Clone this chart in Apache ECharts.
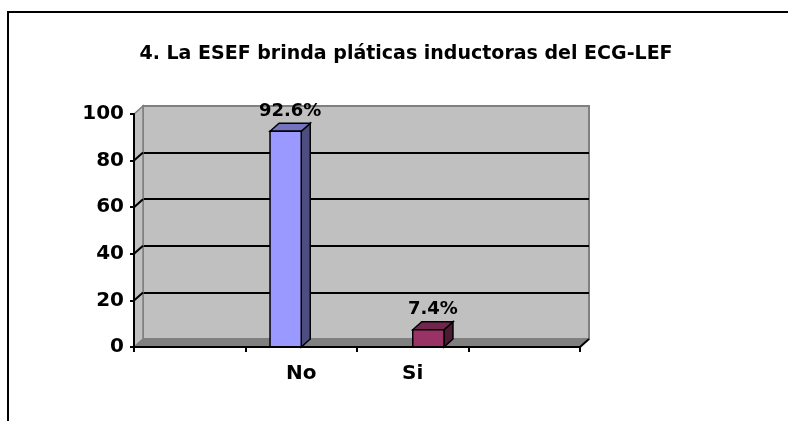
<!DOCTYPE html>
<html><head><meta charset="utf-8">
<script src="https://cdn.jsdelivr.net/npm/echarts@6/dist/echarts.min.js"></script>
<style>html,body{margin:0;padding:0;background:#fff}#c{width:788px;height:421px}</style>
</head><body><div id="c"></div>
<script>
const titleText = '4. La ESEF brinda pláticas inductoras del ECG-LEF';
const categories = ['', 'No', 'Si', ''];
const noValues = [null, 92.6, null, null];
const siValues = [null, null, 7.4, null];
const yTicks = [0, 20, 40, 60, 80, 100];

const DX = 9, DY = 8;
const FONT = '"DejaVu Sans", sans-serif';

function toData(arr) {
  const out = [];
  arr.forEach((v, i) => { if (v != null) out.push([i, v]); });
  return out;
}

function makeBarRender(offsetSlots, colors) {
  return function (params, api) {
    const cat = api.value(0), v = api.value(1);
    const top = api.coord([cat, v]);
    const base = api.coord([cat, 0]);
    const band = api.size([1, 0])[0];
    const w = band * 0.28;
    const x0 = top[0] + offsetSlots * w;
    const x1 = x0 + w;
    const yt = top[1], yb = base[1];
    return {
      type: 'group', children: [
        { type: 'polygon', shape: { points: [[x1, yt], [x1 + DX, yt - DY], [x1 + DX, yb - DY], [x1, yb]] }, style: { fill: colors.side, stroke: '#000', lineWidth: 1.5 } },
        { type: 'polygon', shape: { points: [[x0, yt], [x0 + DX, yt - DY], [x1 + DX, yt - DY], [x1, yt]] }, style: { fill: colors.top, stroke: '#000', lineWidth: 1.5 } },
        { type: 'rect', shape: { x: x0, y: yt, width: w, height: yb - yt }, style: { fill: colors.front, stroke: '#000', lineWidth: 1.5 } },
        { type: 'text', style: { text: v.toFixed(1) + '%', x: (x0 + x1 + DX) / 2, y: yt - DY - 3, textAlign: 'center', textVerticalAlign: 'bottom', font: 'bold 18px ' + FONT, fill: '#000' } }
      ]
    };
  };
}

function wallsRender(params, api) {
  const cs = params.coordSys;
  const L = cs.x, R = cs.x + cs.width, T = cs.y, B = cs.y + cs.height;
  const children = [
    { type: 'polygon', shape: { points: [[L, B], [L, T], [L + DX, T - DY], [L + DX, B - DY]] }, style: { fill: '#c0c0c0', stroke: '#808080', lineWidth: 1.5 } },
    { type: 'polygon', shape: { points: [[L, B], [R, B], [R + DX, B - DY], [L + DX, B - DY]] }, style: { fill: '#808080', stroke: '#808080', lineWidth: 1 } },
    { type: 'line', shape: { x1: R, y1: B, x2: R + DX, y2: B - DY }, style: { stroke: '#000', lineWidth: 2 } }
  ];
  yTicks.forEach(t => {
    if (t === yTicks[0] || t === yTicks[yTicks.length - 1]) return;
    const y = api.coord([0, t])[1];
    children.push({ type: 'line', shape: { x1: L, y1: y, x2: L + DX, y2: y - DY }, style: { stroke: '#000', lineWidth: 2 } });
  });
  return { type: 'group', children };
}

const chart = echarts.init(document.getElementById('c'), null, { renderer: 'canvas' });
chart.setOption({
  animation: false,
  backgroundColor: '#fff',
  title: {
    text: titleText, left: 405, top: 40, textAlign: 'center',
    textStyle: { fontFamily: FONT, fontWeight: 'bold', fontSize: 19, color: '#000' }
  },
  graphic: [{ type: 'rect', z: 100, shape: { x: 8, y: 12, width: 900, height: 500 }, style: { fill: 'none', stroke: '#000', lineWidth: 2 } }],
  grid: [
    { left: 134, right: 208, top: 114, bottom: 74, containLabel: false },
    { left: 134 + DX, right: 208 - DX, top: 114 - DY, bottom: 74 + DY, show: true, backgroundColor: '#c0c0c0', borderColor: '#808080', borderWidth: 2, z: 0 }
  ],
  xAxis: [
    { type: 'category', gridIndex: 0, data: categories, z: 5,
      axisLine: { lineStyle: { color: '#000', width: 2 } },
      axisTick: { show: true, length: 5, interval: 0, lineStyle: { color: '#000', width: 2 } },
      axisLabel: { interval: 0, margin: 17, color: '#000', fontFamily: FONT, fontWeight: 'bold', fontSize: 20 } },
    { type: 'category', gridIndex: 1, data: categories, show: false }
  ],
  yAxis: [
    { type: 'value', gridIndex: 0, min: 0, max: 100, interval: 20, z: 5,
      axisLine: { show: true, lineStyle: { color: '#000', width: 2 } },
      axisTick: { show: true, length: 4, lineStyle: { color: '#000', width: 2 } },
      splitLine: { show: false },
      axisLabel: { margin: 10, color: '#000', fontFamily: FONT, fontWeight: 'bold', fontSize: 20 } },
    { type: 'value', gridIndex: 1, min: 0, max: 100, interval: 20,
      axisLine: { show: false }, axisTick: { show: false }, axisLabel: { show: false },
      splitLine: { show: true, lineStyle: { color: ['rgba(0,0,0,0)', '#000', '#000', '#000', '#000', 'rgba(0,0,0,0)'], width: 2 } } }
  ],
  series: [
    { type: 'custom', name: 'walls', xAxisIndex: 0, yAxisIndex: 0, z: 1, silent: true,
      renderItem: wallsRender, data: [[0, 0]], encode: { x: 0, y: 1 } },
    { type: 'custom', name: 'No', xAxisIndex: 0, yAxisIndex: 0, z: 3,
      renderItem: makeBarRender(-1, { front: '#9999FF', top: '#7373BF', side: '#4D4D80' }),
      data: toData(noValues), encode: { x: 0, y: 1 } },
    { type: 'custom', name: 'Si', xAxisIndex: 0, yAxisIndex: 0, z: 3,
      renderItem: makeBarRender(0, { front: '#993366', top: '#73264D', side: '#4D1A33' }),
      data: toData(siValues), encode: { x: 0, y: 1 } }
  ].map(s => s)
});
chart.setOption({ title: { left: 401 } });
</script></body></html>
